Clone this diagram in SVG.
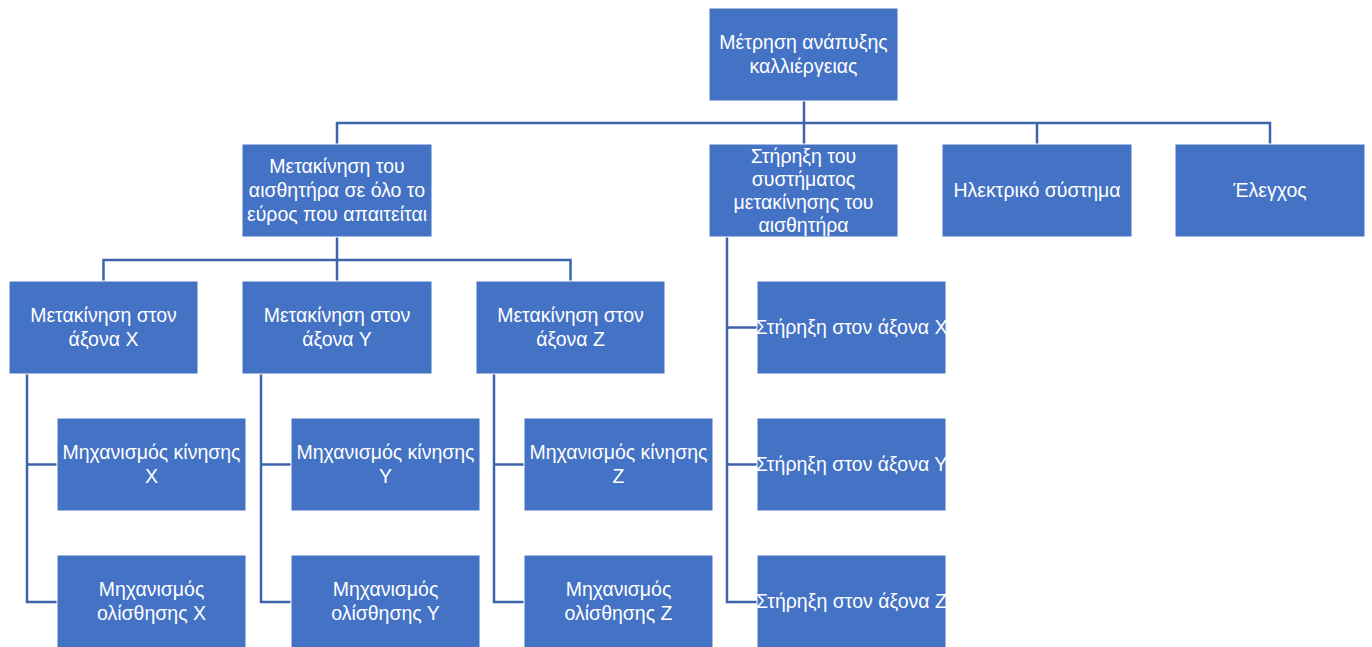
<svg xmlns="http://www.w3.org/2000/svg" width="1372" height="647" viewBox="0 0 1372 647">
<style>
.box{fill:#4472C4;stroke:#ffffff;stroke-width:1}
.lbl{font-family:"Liberation Sans",Arial,sans-serif;font-size:19.5px;fill:#ffffff;text-anchor:middle}
.con{fill:none;stroke:#3D63AB;stroke-width:2.5}
</style>
<rect width="1372" height="647" fill="#ffffff"/>
<g id="connectors">
<path class="con" d="M804,101V144M337,144V123H1270V144M1037,123V144"/>
<path class="con" d="M337,237V281M103.5,281V260H570.5V281"/>
<path class="con" d="M727,237V602H757M727,327.5H757M727,464.5H757"/>
<path class="con" d="M27,374V602H57M27,464.5H57"/>
<path class="con" d="M261,374V602H291M261,464.5H291"/>
<path class="con" d="M494,374V602H524M494,464.5H524"/>
</g>
<g id="n-root"><rect class="box" x="709" y="8" width="189" height="93"/><text class="lbl" x="803.5" y="49">Μέτρηση ανάπυξης</text><text class="lbl" x="803.5" y="73">καλλιέργειας</text></g>
<g id="n-move"><rect class="box" x="242" y="144" width="190" height="93"/><text class="lbl" x="337" y="173">Μετακίνηση του</text><text class="lbl" x="337" y="197">αισθητήρα σε όλο το</text><text class="lbl" x="337" y="221">εύρος που απαιτείται</text></g>
<g id="n-support"><rect class="box" x="709" y="144" width="189" height="93"/><text class="lbl" x="803.5" y="163">Στήρηξη του</text><text class="lbl" x="803.5" y="186">συστήματος</text><text class="lbl" x="803.5" y="209">μετακίνησης του</text><text class="lbl" x="803.5" y="232">αισθητήρα</text></g>
<g id="n-elec"><rect class="box" x="942" y="144" width="190" height="93"/><text class="lbl" x="1037" y="197">Ηλεκτρικό σύστημα</text></g>
<g id="n-control"><rect class="box" x="1175" y="144" width="190" height="93"/><text class="lbl" x="1270" y="197">Έλεγχος</text></g>
<g id="n-mx"><rect class="box" x="9" y="281" width="189" height="93"/><text class="lbl" x="103.5" y="322">Μετακίνηση στον</text><text class="lbl" x="103.5" y="346">άξονα Χ</text></g>
<g id="n-my"><rect class="box" x="242" y="281" width="190" height="93"/><text class="lbl" x="337" y="322">Μετακίνηση στον</text><text class="lbl" x="337" y="346">άξονα Υ</text></g>
<g id="n-mz"><rect class="box" x="476" y="281" width="189" height="93"/><text class="lbl" x="570.5" y="322">Μετακίνηση στον</text><text class="lbl" x="570.5" y="346">άξονα Ζ</text></g>
<g id="n-kx"><rect class="box" x="57" y="418" width="189" height="93"/><text class="lbl" x="151.5" y="459">Μηχανισμός κίνησης</text><text class="lbl" x="151.5" y="483">Χ</text></g>
<g id="n-ox"><rect class="box" x="57" y="555" width="189" height="93"/><text class="lbl" x="151.5" y="596">Μηχανισμός</text><text class="lbl" x="151.5" y="620">ολίσθησης Χ</text></g>
<g id="n-ky"><rect class="box" x="291" y="418" width="189" height="93"/><text class="lbl" x="385.5" y="459">Μηχανισμός κίνησης</text><text class="lbl" x="385.5" y="483">Υ</text></g>
<g id="n-oy"><rect class="box" x="291" y="555" width="189" height="93"/><text class="lbl" x="385.5" y="596">Μηχανισμός</text><text class="lbl" x="385.5" y="620">ολίσθησης Υ</text></g>
<g id="n-kz"><rect class="box" x="524" y="418" width="189" height="93"/><text class="lbl" x="618.5" y="459">Μηχανισμός κίνησης</text><text class="lbl" x="618.5" y="483">Ζ</text></g>
<g id="n-oz"><rect class="box" x="524" y="555" width="189" height="93"/><text class="lbl" x="618.5" y="596">Μηχανισμός</text><text class="lbl" x="618.5" y="620">ολίσθησης Ζ</text></g>
<g id="n-sx"><rect class="box" x="757" y="281" width="189" height="93"/><text class="lbl" x="851.5" y="334">Στήρηξη στον άξονα Χ</text></g>
<g id="n-sy"><rect class="box" x="757" y="418" width="189" height="93"/><text class="lbl" x="851.5" y="471">Στήρηξη στον άξονα Υ</text></g>
<g id="n-sz"><rect class="box" x="757" y="555" width="189" height="93"/><text class="lbl" x="851.5" y="608">Στήρηξη στον άξονα Ζ</text></g>
</svg>
